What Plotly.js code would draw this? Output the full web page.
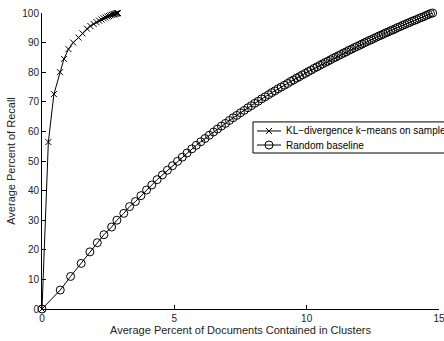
<!DOCTYPE html>
<html>
<head>
<meta charset="utf-8">
<script src="https://cdn.plot.ly/plotly-3.0.1.min.js"></script>
<style>html,body{margin:0;padding:0;background:#fff;overflow:hidden;}#chart{width:444px;height:341px;}</style>
</head>
<body>
<div id="chart"></div>
<script>
// KL-divergence k-means on sampled data
const klX = [0, 0.24, 0.45, 0.68, 0.83, 1.0, 1.18, 1.38, 1.53, 1.70, 1.83, 1.95, 2.06, 2.16, 2.25, 2.33, 2.40, 2.47, 2.53, 2.59, 2.64, 2.69, 2.73, 2.77, 2.80, 2.83, 2.85, 2.87];
const klY = [0, 56.4, 72.6, 80.0, 84.5, 87.8, 90.0, 91.7, 93.1, 94.7, 95.6, 96.3, 96.9, 97.4, 97.8, 98.2, 98.5, 98.8, 99.0, 99.2, 99.4, 99.5, 99.6, 99.7, 99.8, 99.9, 99.95, 100];

// Random baseline
const rbX = [0, 0.69, 1.08, 1.48, 1.81, 2.09, 2.34, 2.63, 2.83, 3.09, 3.31, 3.53,
  3.74, 3.95, 4.15, 4.35, 4.55, 4.74, 4.93, 5.12, 5.30, 5.48, 5.66, 5.83, 6.00,
  6.16, 6.32, 6.48, 6.63, 6.78, 6.93, 7.08, 7.22, 7.36, 7.50, 7.64, 7.78, 7.91, 8.04, 8.17, 8.30, 8.43, 8.56, 8.68, 8.80, 8.92, 9.04,
  9.16, 9.28, 9.40, 9.51, 9.62, 9.73, 9.84, 9.95, 10.06, 10.17, 10.28, 10.39, 10.50, 10.60, 10.70, 10.80, 10.90, 11.00, 11.10, 11.20, 11.30, 11.40, 11.50, 11.60, 11.70, 11.80, 11.90, 12.00,
  12.09, 12.18, 12.27, 12.36, 12.45, 12.54, 12.63, 12.72, 12.81, 12.90, 12.99, 13.08, 13.17, 13.26, 13.35, 13.44, 13.53, 13.62, 13.71, 13.80, 13.89, 13.98, 14.07, 14.16, 14.25, 14.34, 14.43, 14.52, 14.60, 14.68, 14.76];
const rbY = [0, 6.4, 11.0, 15.4, 19.3, 22.4, 25.1, 27.7, 30.0, 32.3, 34.6, 36.3,
  38.3, 40.2, 41.9, 43.7, 45.3, 46.9, 48.4, 49.9, 51.3, 52.7, 54.1, 55.3, 56.5,
  57.6, 58.7, 59.8, 60.8, 61.8, 62.7, 63.7, 64.6, 65.4, 66.3, 67.1, 68.0, 68.7, 69.5, 70.2, 71.0, 71.7, 72.4, 73.1, 73.7, 74.4, 75.0,
  75.6, 76.2, 76.9, 77.4, 78.0, 78.5, 79.1, 79.6, 80.2, 80.7, 81.3, 81.8, 82.3, 82.8, 83.3, 83.7, 84.2, 84.7, 85.1, 85.6, 86.0, 86.5, 86.9, 87.4, 87.8, 88.3, 88.7, 89.1,
  89.5, 89.9, 90.3, 90.7, 91.0, 91.4, 91.8, 92.2, 92.5, 92.9, 93.3, 93.6, 94.0, 94.3, 94.7, 95.1, 95.4, 95.8, 96.1, 96.5, 96.8, 97.2, 97.5, 97.8, 98.2, 98.5, 98.8, 99.2, 99.5, 99.8, 100];

const xTicks = [0, 5, 10, 15];
const yTicks = [0, 10, 20, 30, 40, 50, 60, 70, 80, 90, 100];
const names = ['KL\u2212divergence k\u2212means on sampled data', 'Random baseline'];
const xTitle = 'Average Percent of Documents Contained in Clusters';
const yTitle = 'Average Percent of Recall';

const fam = 'Liberation Sans, Arial, sans-serif';
const font = {family: fam, size: 10, color: '#222'};

const styles = [
  {line: {color: '#000', width: 1}, marker: {symbol: 'x-thin-open', size: 6, color: '#000', line: {color: '#000', width: 1}}},
  {line: {color: '#000', width: 1}, marker: {symbol: 'circle-open', size: 8, color: '#000', line: {color: '#000', width: 1}}}
];

const traces = [
  {x: klX, y: klY, name: names[0], type: 'scatter', mode: 'lines+markers', line: styles[0].line, marker: styles[0].marker, cliponaxis: false},
  {x: rbX, y: rbY, name: names[1], type: 'scatter', mode: 'lines+markers', line: styles[1].line, marker: styles[1].marker, cliponaxis: false}
];

// Custom legend (MATLAB style) drawn on an overlay axis in plot-fraction units
const leg = {x0: 0.5315, x1: 1.03, y0: 0.527, y1: 0.632, rows: [0.6014, 0.554], s0: 0.5416, s1: 0.602, tx: 0.6096};
names.forEach((n, i) => {
  traces.push({x: [leg.s0, leg.s1], y: [leg.rows[i], leg.rows[i]], xaxis: 'x2', yaxis: 'y2', type: 'scatter', mode: 'lines',
    line: styles[i].line, hoverinfo: 'skip', showlegend: false});
  traces.push({x: [(leg.s0 + leg.s1) / 2], y: [leg.rows[i]], xaxis: 'x2', yaxis: 'y2', type: 'scatter', mode: 'markers',
    marker: styles[i].marker, hoverinfo: 'skip', showlegend: false, cliponaxis: false});
});

const layout = {
  width: 444, height: 341,
  margin: {l: 42, r: 5, t: 13, b: 32, autoexpand: false},
  paper_bgcolor: '#fff', plot_bgcolor: '#fff',
  font: font,
  showlegend: false,
  xaxis: {range: [0, 15], tickvals: xTicks, ticktext: xTicks.map(String), ticklabeloverflow: 'allow',
    ticks: 'inside', ticklen: 4, tickcolor: '#000', showline: true, linecolor: '#000', linewidth: 1,
    showgrid: false, zeroline: false, mirror: false, automargin: false,
    title: {text: xTitle, font: {family: fam, size: 11, color: '#222'}, standoff: 2}},
  yaxis: {range: [0, 100], tickvals: yTicks, ticktext: yTicks.map(String),
    ticks: 'inside', ticklen: 4, tickcolor: '#000', showline: true, linecolor: '#000', linewidth: 1,
    showgrid: false, zeroline: false, mirror: false, automargin: false,
    title: {text: yTitle, font: {family: fam, size: 11, color: '#222'}, standoff: 4}},
  xaxis2: {overlaying: 'x', range: [0, 1], visible: false, fixedrange: true},
  yaxis2: {overlaying: 'y', range: [0, 1], visible: false, fixedrange: true},
  shapes: [{type: 'rect', xref: 'paper', yref: 'paper', x0: leg.x0, x1: leg.x1, y0: leg.y0, y1: leg.y1,
    fillcolor: '#fff', line: {color: '#000', width: 1}, layer: 'below'}],
  annotations: names.map((n, i) => ({xref: 'paper', yref: 'paper', x: leg.tx, y: leg.rows[i], xanchor: 'left', yanchor: 'middle',
    text: n, showarrow: false, font: {family: fam, size: 10, color: '#000'}}))
};

Plotly.newPlot('chart', traces, layout, {displayModeBar: false, staticPlot: true});
</script>
</body>
</html>
